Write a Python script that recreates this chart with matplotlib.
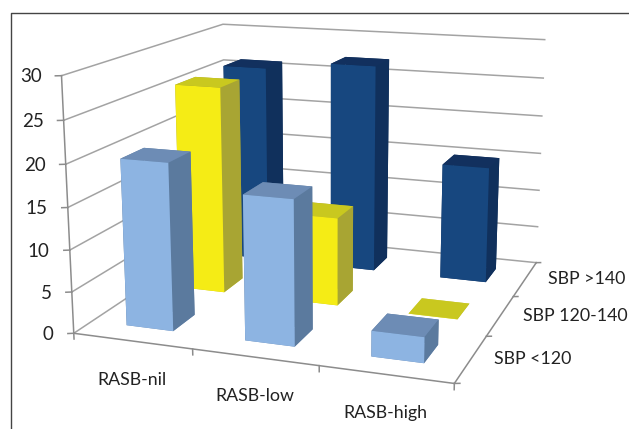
import matplotlib
matplotlib.use("Agg")
import matplotlib.pyplot as plt
from matplotlib.lines import Line2D
from matplotlib.colors import to_rgba
from mpl_toolkits.mplot3d import proj3d

groups = ["RASB-nil", "RASB-low", "RASB-high"]
series = ["SBP <120", "SBP 120-140", "SBP >140"]
sbp_low = [20, 17.1, 3]
sbp_mid = [26, 11, 0]
sbp_high = [26, 27.1, 15]
z_ticks = [0, 5, 10, 15, 20, 25, 30]

# front, side, top colour of each series
face_colors = [
    ("#8db4e2", "#5b7a9e", "#6d8cb5"),
    ("#f5ec15", "#a8a533", "#c9c81f"),
    ("#17477f", "#10305c", "#12305e"),
]

plt.rcParams["font.family"] = ["Lato", "DejaVu Sans"]

W, H = 629, 429
fig = plt.figure(figsize=(W / 100, H / 100), dpi=100)
ax = fig.add_axes([36.1 / W, -35.5 / H, 557.2 / W, 557.2 / H], projection="3d")
ax.set_xlim(0, 3)
ax.set_ylim(0, 3)
ax.set_zlim(0, 30)
ax.view_init(elev=14.06, azim=-70.43, roll=0.075)
ax.set_proj_type("persp", focal_length=0.4595)
ax.set_box_aspect((2.827, 2.783, 1.885))
ax.set_axis_off()
ax.computed_zorder = False

grid_c = "#a3a3a3"
axis_c = "#8c8c8c"

# ---- walls ----
for z in z_ticks:
    ax.plot([0, 0, 3], [0, 3, 3], [z, z, z], color=grid_c, lw=1.1, zorder=1)
ax.plot([0, 0], [0, 0], [0, 30], color=axis_c, lw=1.1, zorder=1)

# ---- axis lines and ticks ----
ax.plot([0, 3, 3], [0, 0, 3], [0, 0, 0], color=axis_c, lw=1.1, zorder=1)
for z in z_ticks:
    ax.plot([-0.04, 0], [-0.02, 0], [z, z], color=axis_c, lw=1.1, zorder=1)
for i in range(4):
    ax.plot([i, i], [0, 0], [-0.7, 0], color=axis_c, lw=1.1, zorder=1)
for j in range(4):
    ax.plot([3, 3.036], [j, j + 0.015], [0, 0], color=axis_c, lw=1.1, zorder=1)

# ---- bars, back row first ----
order = 10
for row, vals in reversed(list(enumerate([sbp_low, sbp_mid, sbp_high]))):
    front, side, top = face_colors[row]
    # bottom, top, -y, +y, -x, +x
    faces = [to_rgba(c) for c in (top, top, front, side, side, side)]
    for i, v in enumerate(vals):
        ax.bar3d(i + 0.3, row + 0.3, 0, 0.4, 0.4, max(v, 0.02), color=faces,
                 shade=False, zorder=order)
        order += 1

# ---- labels ----
M = ax.get_proj()


def label(x, y, z, text, dx, dy, ha, size):
    px, py, _ = proj3d.proj_transform(x, y, z, M)
    ax.annotate(text, (px, py), xytext=(dx, dy), textcoords="offset pixels",
                ha=ha, va="center", fontsize=size, color="#222222",
                annotation_clip=False, zorder=50)


for z in z_ticks:
    label(0, 0, z, str(z), -20, -1, "right", 13.5)
for i, g in enumerate(groups):
    label(i + 0.5, 0, 0, g, 0, -39, "center", 12.8)
for j, s in enumerate(series):
    label(3, j + 0.5, 0, s, 23, 0, "left", 12.8)

# ---- frame of the pasted chart ----
fig.add_artist(Line2D([11 / W, 11 / W, 1], [0, 1 - 12.5 / H, 1 - 12.5 / H],
                      color="#444444", lw=1.0))

fig.savefig("out.png", dpi=100)
